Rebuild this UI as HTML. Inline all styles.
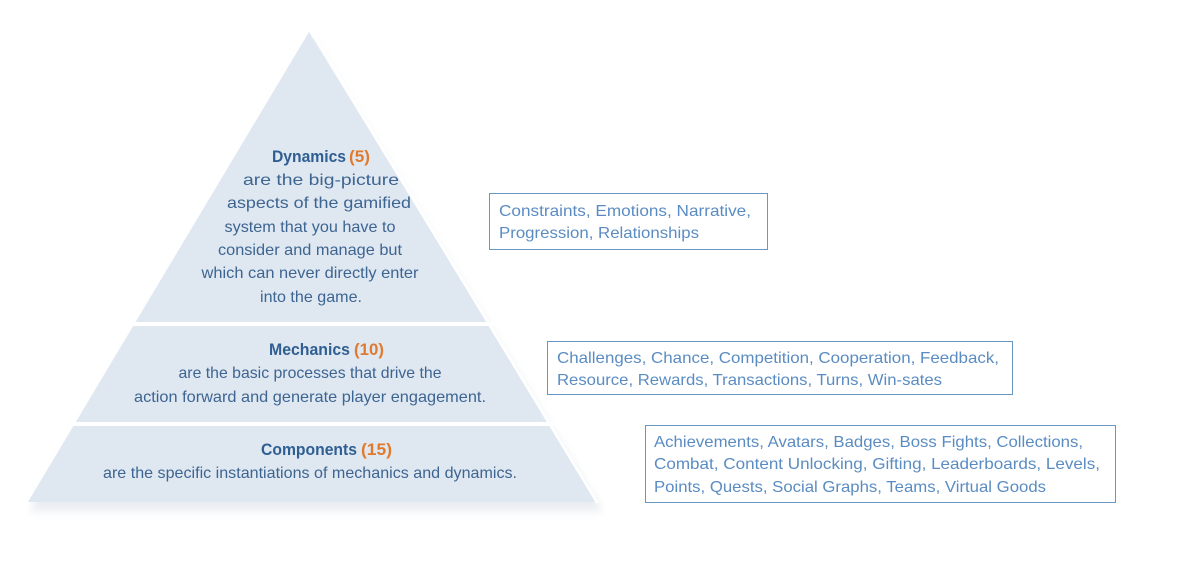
<!DOCTYPE html>
<html><head><meta charset="utf-8"><style>
html,body{margin:0;padding:0;background:#fff;width:1182px;height:567px;overflow:hidden}
svg{display:block}
text{font-family:"Liberation Sans",sans-serif}
.p{fill:#3d6591;font-size:16px}
.h{fill:#2f5f92;font-size:17px;font-weight:bold}
.o{fill:#e07a2e;font-size:17px;font-weight:bold}
.b{fill:#5a8cc2;font-size:16px}
</style></head><body>
<svg width="1182" height="567" viewBox="0 0 1182 567">
<defs><filter id="sh" x="-10%" y="-10%" width="120%" height="120%"><feGaussianBlur stdDeviation="4"/></filter></defs>
<polygon points="309,32 600,506 26,506" fill="#d3dbe4" opacity="0.5" filter="url(#sh)" transform="translate(3,5)"/>
<polygon points="309,32 597,502 28,502" fill="#dfe7f1"/>
<polygon points="309,30 312,30 599,503 596,503" fill="#fff"/>
<rect x="0" y="322" width="700" height="4" fill="#fff"/>
<rect x="0" y="422" width="700" height="4" fill="#fff"/>

<text x="272" y="162" class="h" textLength="74" lengthAdjust="spacingAndGlyphs">Dynamics</text>
<text x="349" y="162" class="o" textLength="21" lengthAdjust="spacingAndGlyphs">(5)</text>
<text x="321" y="185" class="p" text-anchor="middle" textLength="156" lengthAdjust="spacingAndGlyphs">are the big-picture</text>
<text x="319" y="208" class="p" text-anchor="middle" textLength="184" lengthAdjust="spacingAndGlyphs">aspects of the gamified</text>
<text x="310" y="232" class="p" text-anchor="middle" textLength="171" lengthAdjust="spacingAndGlyphs">system that you have to</text>
<text x="310" y="255" class="p" text-anchor="middle" textLength="184" lengthAdjust="spacingAndGlyphs">consider and manage but</text>
<text x="310" y="278" class="p" text-anchor="middle" textLength="217" lengthAdjust="spacingAndGlyphs">which can never directly enter</text>
<text x="311" y="302" class="p" text-anchor="middle" textLength="102" lengthAdjust="spacingAndGlyphs">into the game.</text>

<text x="269" y="355" class="h" textLength="81" lengthAdjust="spacingAndGlyphs">Mechanics</text>
<text x="354" y="355" class="o" textLength="30" lengthAdjust="spacingAndGlyphs">(10)</text>
<text x="310" y="378" class="p" text-anchor="middle" textLength="263" lengthAdjust="spacingAndGlyphs">are the basic processes that drive the</text>
<text x="310" y="402" class="p" text-anchor="middle" textLength="352" lengthAdjust="spacingAndGlyphs">action forward and generate player engagement.</text>

<text x="261" y="455" class="h" textLength="96" lengthAdjust="spacingAndGlyphs">Components</text>
<text x="361" y="455" class="o" textLength="31" lengthAdjust="spacingAndGlyphs">(15)</text>
<text x="310" y="478" class="p" text-anchor="middle" textLength="414" lengthAdjust="spacingAndGlyphs">are the specific instantiations of mechanics and dynamics.</text>

<rect x="489.5" y="193.5" width="278" height="56" fill="#fff" stroke="#6a96c3"/>
<text x="499" y="216" class="b" textLength="252" lengthAdjust="spacingAndGlyphs">Constraints, Emotions, Narrative,</text>
<text x="499" y="238" class="b" textLength="200" lengthAdjust="spacingAndGlyphs">Progression, Relationships</text>

<rect x="547.5" y="341.5" width="465" height="53" fill="#fff" stroke="#6a96c3"/>
<text x="557" y="363" class="b" textLength="442" lengthAdjust="spacingAndGlyphs">Challenges, Chance, Competition, Cooperation, Feedback,</text>
<text x="557" y="385" class="b" textLength="385" lengthAdjust="spacingAndGlyphs">Resource, Rewards, Transactions, Turns, Win-sates</text>

<rect x="645.5" y="425.5" width="470" height="77" fill="#fff" stroke="#6a96c3"/>
<text x="654" y="447" class="b" textLength="429" lengthAdjust="spacingAndGlyphs">Achievements, Avatars, Badges, Boss Fights, Collections,</text>
<text x="654" y="469" class="b" textLength="446" lengthAdjust="spacingAndGlyphs">Combat, Content Unlocking, Gifting, Leaderboards, Levels,</text>
<text x="654" y="492" class="b" textLength="392" lengthAdjust="spacingAndGlyphs">Points, Quests, Social Graphs, Teams, Virtual Goods</text>
</svg>
</body></html>
